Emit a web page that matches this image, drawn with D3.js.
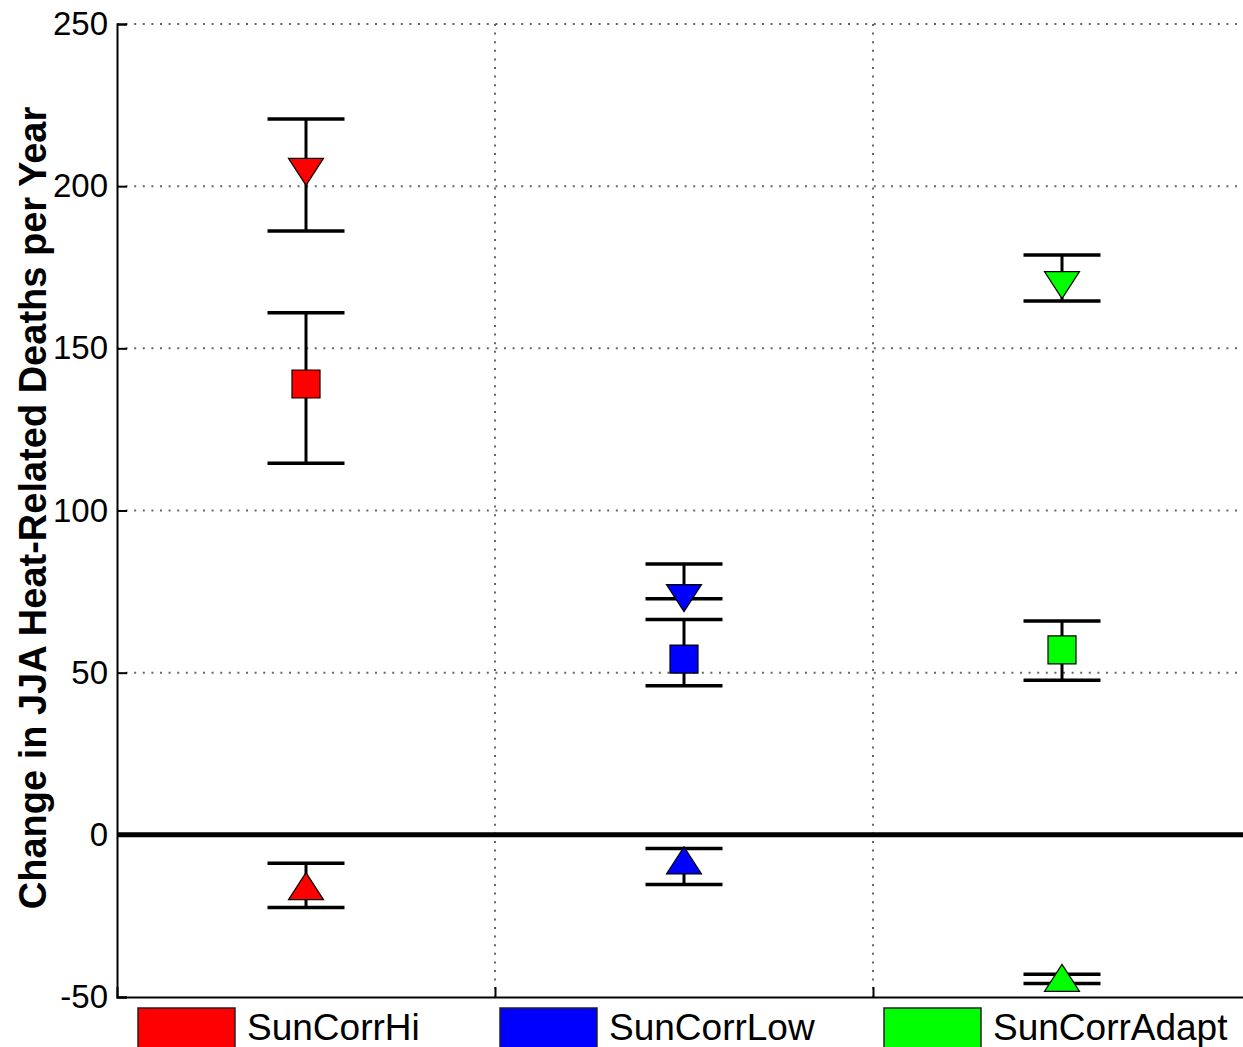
<!DOCTYPE html>
<html>
<head>
<meta charset="utf-8">
<script src="https://cdn.jsdelivr.net/npm/d3@7"></script>
<style>
body { margin: 0; background: #fff; }
text { font-family: "Liberation Sans", Arial, sans-serif; }
</style>
</head>
<body>
<script>
var width = 1243, height = 1047;

// groups and colours
var categories = ["SunCorrHi", "SunCorrLow", "SunCorrAdapt"];
var colors = ["#ff0000", "#0000ff", "#00ff00"];
var groupX = [0.5, 1.5, 2.5];

// down triangles
var downMean = [204.4, 73.0, 169.5];
var downLow = [186.2, 72.8, 164.6];
var downHigh = [220.7, 83.5, 178.8];
// squares
var sqMean = [139.0, 54.2, 57.0];
var sqLow = [114.6, 46.0, 47.7];
var sqHigh = [161.0, 66.4, 65.9];
// up triangles
var upMean = [-15.8, -7.9, -44.1];
var upLow = [-22.4, -15.3, -45.8];
var upHigh = [-8.8, -4.2, -43.0];

var yTicks = [-50, 0, 50, 100, 150, 200, 250];
var xTicks = [1, 2, 3];

var x = d3.scaleLinear().domain([0, 3]).range([117, 1251]);
var y = d3.scaleLinear().domain([-50, 250]).range([997, 24]);

var svg = d3.select("body").append("svg").attr("width", width).attr("height", height);

// dotted grid
svg.append("g").selectAll("line").data(yTicks.filter(function(d){ return d !== -50 && d !== 0; }))
  .enter().append("line")
    .attr("x1", x(0)).attr("x2", x(3))
    .attr("y1", function(d){ return y(d); }).attr("y2", function(d){ return y(d); })
    .attr("stroke", "#666").attr("stroke-width", 2).attr("stroke-dasharray", "2,6.6");
svg.append("g").selectAll("line").data(xTicks)
  .enter().append("line")
    .attr("x1", function(d){ return x(d); }).attr("x2", function(d){ return x(d); })
    .attr("y1", y(250)).attr("y2", y(-50))
    .attr("stroke", "#666").attr("stroke-width", 2).attr("stroke-dasharray", "2,6.6");

// axes (MATLAB style inward ticks)
var yAxis = d3.axisLeft(y).tickValues(yTicks).tickSize(-10).tickPadding(9)
  .tickFormat(function(d){ return String(d); });
var gy = svg.append("g").attr("transform", "translate(" + x(0) + ",0)").call(yAxis);
gy.select(".domain").attr("stroke", "#000").attr("stroke-width", 2);
gy.selectAll(".tick line").attr("stroke", "#000").attr("stroke-width", 2);
gy.selectAll(".tick text").attr("font-size", 33).attr("fill", "#000")
  .attr("font-family", "'Liberation Sans', Arial, sans-serif");

var xAxis = d3.axisBottom(x).tickValues(xTicks).tickSize(-10).tickFormat("");
var gx = svg.append("g").attr("transform", "translate(0," + y(-50) + ")").call(xAxis);
gx.select(".domain").attr("stroke", "#000").attr("stroke-width", 2);
gx.selectAll(".tick line").attr("stroke", "#000").attr("stroke-width", 2);

// zero line
svg.append("line")
  .attr("x1", x(0)).attr("x2", x(3)).attr("y1", y(0)).attr("y2", y(0))
  .attr("stroke", "#000").attr("stroke-width", 5);

// y label
svg.append("text")
  .attr("transform", "translate(46," + 508 + ") rotate(-90)")
  .attr("text-anchor", "middle")
  .attr("font-size", 38).attr("font-weight", "bold")
  .text("Change in JJA Heat-Related Deaths per Year");

// series
var series = [
  { mean: downMean, low: downLow, high: downHigh, shape: "down" },
  { mean: sqMean, low: sqLow, high: sqHigh, shape: "square" },
  { mean: upMean, low: upLow, high: upHigh, shape: "up" }
];

var capHalf = 38.5;

series.forEach(function(s) {
  var g = svg.append("g");
  var rows = d3.range(categories.length).map(function(i){
    return { x: groupX[i], m: s.mean[i], lo: s.low[i], hi: s.high[i], c: colors[i] };
  });
  g.selectAll(".stem").data(rows).enter().append("line")
    .attr("x1", function(d){ return x(d.x); }).attr("x2", function(d){ return x(d.x); })
    .attr("y1", function(d){ return y(d.lo); }).attr("y2", function(d){ return y(d.hi); })
    .attr("stroke", "#000").attr("stroke-width", 3);
  g.selectAll(".capLo").data(rows).enter().append("line")
    .attr("x1", function(d){ return x(d.x) - capHalf; }).attr("x2", function(d){ return x(d.x) + capHalf; })
    .attr("y1", function(d){ return y(d.lo); }).attr("y2", function(d){ return y(d.lo); })
    .attr("stroke", "#000").attr("stroke-width", 3.5);
  g.selectAll(".capHi").data(rows).enter().append("line")
    .attr("x1", function(d){ return x(d.x) - capHalf; }).attr("x2", function(d){ return x(d.x) + capHalf; })
    .attr("y1", function(d){ return y(d.hi); }).attr("y2", function(d){ return y(d.hi); })
    .attr("stroke", "#000").attr("stroke-width", 3.5);
  g.selectAll(".mark").data(rows).enter().append("path")
    .attr("transform", function(d){ return "translate(" + x(d.x) + "," + y(d.m) + ")"; })
    .attr("d", function() {
      if (s.shape === "square") return "M-14,-14L14,-14L14,14L-14,14Z";
      if (s.shape === "down") return "M-17.5,-13.5L17.5,-13.5L0,13.5Z";
      return "M-17.5,13.5L17.5,13.5L0,-13.5Z";
    })
    .attr("fill", function(d){ return d.c; })
    .attr("stroke", "#000").attr("stroke-width", 1.2);
});

// legend
var legX = [138, 500, 884];
var leg = svg.append("g").selectAll("g").data(categories).enter().append("g")
  .attr("transform", function(d, i){ return "translate(" + legX[i] + ",1008)"; });
leg.append("rect").attr("width", 97).attr("height", 44)
  .attr("fill", function(d, i){ return colors[i]; })
  .attr("stroke", "#222").attr("stroke-width", 1.5);
leg.append("text").attr("x", 109).attr("y", 32)
  .attr("font-size", 37)
  .text(function(d){ return d; });
</script>
</body>
</html>
